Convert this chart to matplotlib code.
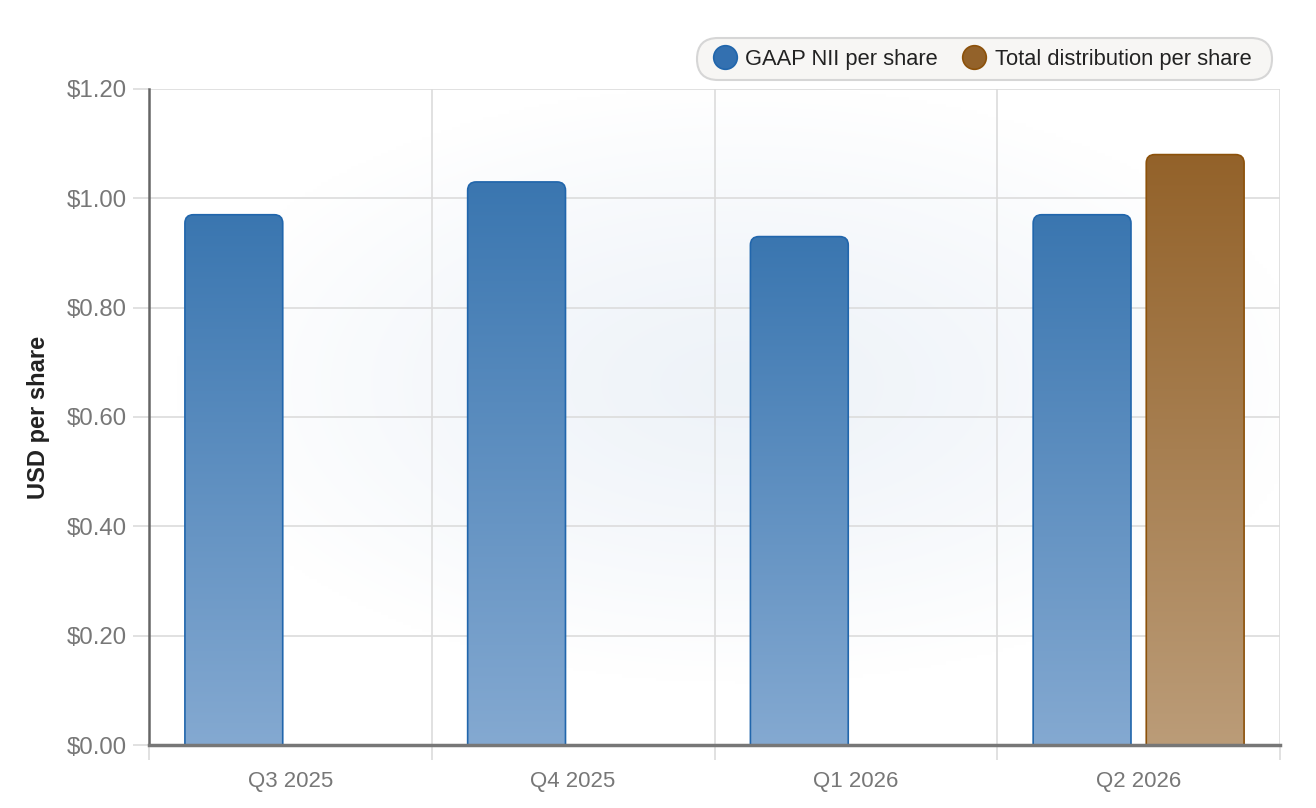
import numpy as np
import matplotlib
matplotlib.use("Agg")
import matplotlib.pyplot as plt
from matplotlib.patches import FancyBboxPatch
from matplotlib.lines import Line2D

plt.rcParams['font.family'] = ['Liberation Sans', 'DejaVu Sans']

# data
quarters = ['Q3 2025', 'Q4 2025', 'Q1 2026', 'Q2 2026']
gaap_nii = [0.97, 1.03, 0.93, 0.97]
total_dist = [None, None, None, 1.08]
y_ticks = [0.0, 0.2, 0.4, 0.6, 0.8, 1.0, 1.2]

blue_edge = '#2166ac'
blue_top, blue_bot = '#3a76b0', '#84a9d1'
brown_edge = '#8c510a'
brown_top, brown_bot = '#93622a', '#bb9c78'

W, H = 1316, 808
fig = plt.figure(figsize=(W / 100, H / 100), dpi=100)
ax = fig.add_axes([149 / W, 63 / H, 1131 / W, 656 / H])
ax.set_xlim(-0.5, len(quarters) - 0.5)
ax.set_ylim(0, 1.2)

# faint radial background
gx, gy = np.meshgrid(np.linspace(-1, 1, 300), np.linspace(-1, 1, 200))
r = np.clip(np.sqrt(((gx - 0.05) * 1.0) ** 2 + ((gy + 0.1) * 1.1) ** 2), 0, 1)
bg = np.ones((200, 300, 3))
center = np.array([0.935, 0.953, 0.975])
for c in range(3):
    bg[..., c] = center[c] + (1 - center[c]) * r ** 1.3
ax.imshow(bg, extent=[-0.5, 3.5, 0, 1.2], aspect='auto', zorder=0,
          interpolation='bilinear')


def grad_img(top, bot):
    t = np.array(matplotlib.colors.to_rgb(top))
    b = np.array(matplotlib.colors.to_rgb(bot))
    s = np.linspace(0, 1, 256)[:, None]
    return (t * (1 - s) + b * s)[:, None, :]


def draw_bar(x, h, width, top, bot, edge):
    patch = FancyBboxPatch((x - width / 2, -0.05), width, h + 0.05,
                           boxstyle='round,pad=0,rounding_size=0.03',
                           mutation_aspect=0.52, facecolor='none',
                           edgecolor=edge, linewidth=1.2, zorder=3)
    ax.add_patch(patch)
    img = ax.imshow(grad_img(top, bot), extent=[x - width / 2, x + width / 2, 0, h],
                    aspect='auto', zorder=2, interpolation='bilinear')
    img.set_clip_path(patch)


width = 0.346
offset = 0.2
for i, v in enumerate(gaap_nii):
    if v is not None:
        draw_bar(i - offset, v, width, blue_top, blue_bot, blue_edge)
for i, v in enumerate(total_dist):
    if v is not None:
        draw_bar(i + offset, v, width, brown_top, brown_bot, brown_edge)

ax.set_xlim(-0.5, len(quarters) - 0.5)
ax.set_ylim(0, 1.2)

# grid
ax.set_yticks(y_ticks)
ax.set_yticklabels([f'${t:.2f}' for t in y_ticks])
ax.set_xticks(range(len(quarters)))
ax.set_xticklabels(quarters)
ax.set_xticks(np.arange(-0.5, len(quarters)), minor=True)
ax.grid(True, axis='y', color='#dcdcdc', linewidth=1.2, zorder=1)
ax.grid(True, axis='x', which='minor', color='#dcdcdc', linewidth=1.2, zorder=1)
ax.grid(False, axis='x', which='major')
ax.set_axisbelow(True)

ax.tick_params(axis='y', length=11.5, width=1.2, color='#dcdcdc', pad=4.5,
               labelsize=17.3, labelcolor='#777777')
ax.tick_params(axis='x', which='major', length=0, pad=18.5, labelsize=16,
               labelcolor='#777777')
ax.tick_params(axis='x', which='minor', length=11, width=1.2, color='#dcdcdc')

for s in ['top', 'right']:
    ax.spines[s].set_visible(False)
ax.spines['left'].set_color('#666666')
ax.spines['left'].set_linewidth(1.8)
ax.spines['bottom'].set_color('#777777')
ax.spines['bottom'].set_linewidth(2.5)
ax.spines['left'].set_zorder(4)
ax.spines['bottom'].set_zorder(4)

ax.set_ylabel('USD per share', fontsize=17, fontweight='bold', color='#222222',
              labelpad=12)

# legend box drawn separately so its padding matches
legend_box = FancyBboxPatch((697 / W, 1 - 80 / H), 575 / W, 42 / H,
                            boxstyle='round,pad=0,rounding_size=0.016',
                            mutation_aspect=W / H, transform=fig.transFigure,
                            facecolor='#f7f6f4', edgecolor='#d6d6d6',
                            linewidth=1.5, zorder=5)
fig.patches.append(legend_box)

handles = [
    Line2D([], [], marker='o', linestyle='none', markersize=17,
           markerfacecolor='#3370b0', markeredgecolor=blue_edge, markeredgewidth=1.2,
           label='GAAP NII per share'),
    Line2D([], [], marker='o', linestyle='none', markersize=17,
           markerfacecolor='#93622a', markeredgecolor=brown_edge, markeredgewidth=1.2,
           label='Total distribution per share'),
]
leg = fig.legend(handles=handles, loc='center left',
                 bbox_to_anchor=(713 / W, 1 - 59 / H),
                 ncol=2, fontsize=15.75, frameon=False,
                 handletextpad=0.37, columnspacing=1.12, borderpad=0,
                 borderaxespad=0, handlelength=1.1, labelcolor='#222222')
leg.set_zorder(6)

fig.savefig('out.png', dpi=100)
